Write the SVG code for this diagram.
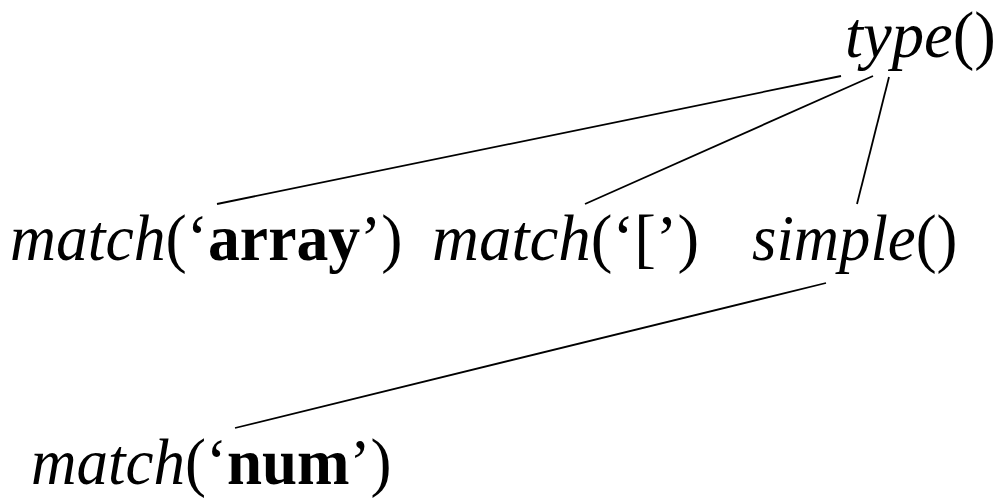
<svg xmlns="http://www.w3.org/2000/svg" width="996" height="499" viewBox="0 0 996 499">
<style>
.t{font-family:"Liberation Serif","Times New Roman",serif;font-size:66px;fill:#000}
.i{font-style:italic}
.b{font-weight:bold}
.c line{stroke:#000;stroke-width:1.8}
</style>
<rect width="996" height="499" fill="#fff"/>
<g class="c" id="connectors">
<line x1="841" y1="76" x2="217" y2="204"/>
<line x1="873" y1="76" x2="585" y2="204"/>
<line x1="889" y1="77" x2="857" y2="204"/>
<line x1="826" y1="283" x2="235" y2="428"/>
</g>
<g id="type" transform="translate(845,57) scale(0.98,1)"><text class="t" x="0" y="0"><tspan class="i">type</tspan>()</text></g>
<g id="match-array" transform="translate(10,260) scale(0.965,1)"><text class="t" x="0" y="0"><tspan class="i">match</tspan>(‘<tspan class="b">array</tspan>’)</text></g>
<g id="match-bracket" transform="translate(432,260) scale(0.985,1)"><text class="t" x="0" y="0"><tspan class="i">match</tspan>(‘[’)</text></g>
<g id="simple" transform="translate(752,260) scale(0.95,1)"><text class="t" x="0" y="0"><tspan class="i">simple</tspan>()</text></g>
<g id="match-num" transform="translate(31,484) scale(0.955,1)"><text class="t" x="0" y="0"><tspan class="i">match</tspan>(‘<tspan class="b">num</tspan>’)</text></g>
</svg>
